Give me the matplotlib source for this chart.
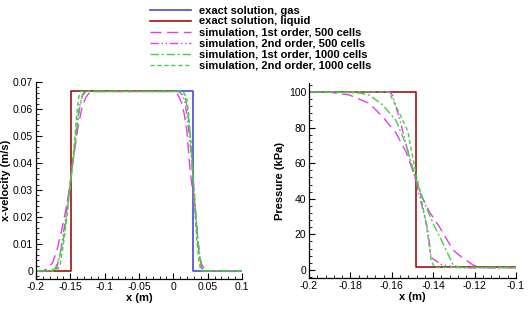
import matplotlib
matplotlib.use("Agg")
import matplotlib.pyplot as plt
from matplotlib.ticker import AutoMinorLocator

# ---------------- data ----------------
labels = ["exact solution, gas", "exact solution, liquid",
          "simulation, 1st order, 500 cells", "simulation, 2nd order, 500 cells",
          "simulation, 1st order, 1000 cells", "simulation, 2nd order, 1000 cells"]

# velocity plot
gas_x = [0.0, 0.0282, 0.0282, 0.1]
gas_u = [0.0665, 0.0665, 0.0, 0.0]
liq_x = [-0.2, -0.149, -0.149, 0.0]
liq_u = [0.0, 0.0, 0.0665, 0.0665]

s1_500_x = [-0.2, -0.19, -0.182, -0.176, -0.170, -0.163, -0.157, -0.152, -0.148, -0.144, -0.139,
            -0.133, -0.128, -0.124, -0.118, 0.0, 0.006, 0.012, 0.016, 0.0194, 0.0243, 0.028,
            0.0316, 0.035, 0.0378, 0.042, 0.046, 0.052, 0.1]
s1_500_u = [0.0, 0.0, 0.001, 0.003, 0.0072, 0.0146, 0.022, 0.0295, 0.037, 0.0444, 0.053,
            0.0605, 0.064, 0.0655, 0.0665, 0.0665, 0.0655, 0.0624, 0.058, 0.0525, 0.0376, 0.030,
            0.0227, 0.013, 0.0053, 0.002, 0.0006, 0.0, 0.0]
s2_500_x = [-0.2, -0.176, -0.170, -0.165, -0.160, -0.155, -0.150, -0.145, -0.140, -0.136, -0.132,
            -0.128, 0.008, 0.014, 0.018, 0.022, 0.026, 0.030, 0.034, 0.038, 0.041, 0.044, 0.1]
s2_500_u = [0.0, 0.0, 0.001, 0.006, 0.014, 0.023, 0.033, 0.043, 0.055, 0.062, 0.0655,
            0.0665, 0.0665, 0.065, 0.061, 0.053, 0.043, 0.030, 0.016, 0.006, 0.001, 0.0, 0.0]
s1_1000_x = [-0.2, -0.178, -0.172, -0.166, -0.160, -0.155, -0.150, -0.145, -0.140, -0.136, -0.132,
             -0.127, 0.010, 0.016, 0.020, 0.024, 0.028, 0.032, 0.036, 0.040, 0.043, 0.1]
s1_1000_u = [0.0, 0.0, 0.001, 0.005, 0.012, 0.021, 0.032, 0.043, 0.054, 0.061, 0.065,
             0.0665, 0.0665, 0.0655, 0.061, 0.052, 0.038, 0.024, 0.011, 0.003, 0.0, 0.0]
s2_1000_x = [-0.2, -0.170, -0.165, -0.160, -0.155, -0.150, -0.145, -0.141, -0.138, -0.135,
             0.014, 0.019, 0.022, 0.025, 0.028, 0.031, 0.034, 0.037, 0.040, 0.1]
s2_1000_u = [0.0, 0.0, 0.002, 0.010, 0.020, 0.032, 0.045, 0.057, 0.064, 0.0665,
             0.0665, 0.0645, 0.059, 0.050, 0.037, 0.024, 0.012, 0.004, 0.0, 0.0]

# pressure plot
liqp_x = [-0.2, -0.1484, -0.1484, -0.1]
liqp_p = [100.0, 100.0, 1.4, 1.4]
p1_500_x = [-0.2, -0.19, -0.1806, -0.1709, -0.1644, -0.158, -0.153, -0.1484, -0.1458, -0.142,
            -0.1369, -0.1304, -0.1256, -0.1207, -0.117, -0.1]
p1_500_p = [100.0, 99.8, 98.3, 93.6, 86.0, 77.0, 66.0, 51.0, 42.0, 33.0,
            24.0, 11.2, 6.6, 2.8, 1.4, 1.4]
p2_500_x = [-0.2, -0.161, -0.1596, -0.156, -0.153, -0.1482, -0.1426, -0.141, -0.136, -0.128, -0.1]
p2_500_p = [100.0, 100.0, 98.0, 84.0, 70.0, 49.0, 22.5, 7.0, 3.0, 1.2, 1.2]
p1_1000_x = [-0.2, -0.18, -0.1757, -0.171, -0.1644, -0.158, -0.153, -0.1484, -0.144, -0.140,
             -0.1353, -0.1304, -0.127, -0.1]
p1_1000_p = [100.0, 99.6, 99.3, 98.3, 92.7, 84.0, 70.0, 51.0, 37.0, 26.0,
             15.0, 2.8, 1.4, 1.4]
p2_1000_x = [-0.2, -0.162, -0.1612, -0.1563, -0.1523, -0.149, -0.1466, -0.1434, -0.141, -0.1395, -0.1]
p2_1000_p = [100.0, 100.0, 99.5, 88.0, 78.0, 58.0, 45.0, 26.0, 6.0, 1.4, 1.4]

# ---------------- style ----------------
BLUE = "#4a4ad8"
RED = "#a01010"
MAG = "#e040e0"
GRN = "#40d040"
styles = [
    dict(color=BLUE, lw=1.2, ls="-"),
    dict(color=RED, lw=1.2, ls="-"),
    dict(color=MAG, lw=1.0, ls=(0, (8, 4))),
    dict(color=MAG, lw=1.0, ls=(0, (6, 2, 1, 2, 1, 2))),
    dict(color=GRN, lw=1.0, ls=(0, (6, 2, 1.5, 2))),
    dict(color=GRN, lw=1.0, ls=(0, (3, 2))),
]

plt.rcParams["font.family"] = ["Liberation Sans", "DejaVu Sans"]

fig = plt.figure(figsize=(5.3, 3.1), dpi=100)
ax1 = fig.add_axes([36/530, 1-279/310, 206/530, 197/310])
ax2 = fig.add_axes([309/530, 1-278/310, 207/530, 195/310])

h = []
h.append(ax1.plot(gas_x, gas_u, **styles[0])[0])
h.append(ax1.plot(liq_x, liq_u, **styles[1])[0])
h.append(ax1.plot(s1_500_x, s1_500_u, **styles[2])[0])
h.append(ax1.plot(s2_500_x, s2_500_u, **styles[3])[0])
h.append(ax1.plot(s1_1000_x, s1_1000_u, **styles[4])[0])
h.append(ax1.plot(s2_1000_x, s2_1000_u, **styles[5])[0])

ax2.plot(liqp_x, liqp_p, **styles[1])
ax2.plot(p1_500_x, p1_500_p, **styles[2])
ax2.plot(p2_500_x, p2_500_p, **styles[3])
ax2.plot(p1_1000_x, p1_1000_p, **styles[4])
ax2.plot(p2_1000_x, p2_1000_p, **styles[5])

ax1.set_xlim(-0.2, 0.1)
ax1.set_ylim(-0.003, 0.07)
ax1.set_xticks([-0.2, -0.15, -0.1, -0.05, 0, 0.05, 0.1])
ax1.set_xticklabels(["-0.2", "-0.15", "-0.1", "-0.05", "0", "0.05", "0.1"])
ax1.set_yticks([0, 0.01, 0.02, 0.03, 0.04, 0.05, 0.06, 0.07])
ax1.set_yticklabels(["0", "0.01", "0.02", "0.03", "0.04", "0.05", "0.06", "0.07"])
ax1.set_xlabel("x (m)", fontweight="bold", fontsize=8, labelpad=1)
ax1.set_ylabel("x-velocity (m/s)", fontweight="bold", fontsize=8, labelpad=1.5)

ax2.set_xlim(-0.2, -0.1)
ax2.set_ylim(-4.5, 105)
ax2.set_xticks([-0.2, -0.18, -0.16, -0.14, -0.12, -0.1])
ax2.set_xticklabels(["-0.2", "-0.18", "-0.16", "-0.14", "-0.12", "-0.1"])
ax2.set_yticks([0, 20, 40, 60, 80, 100])
ax2.set_xlabel("x (m)", fontweight="bold", fontsize=8, labelpad=1)
ax2.set_ylabel("Pressure (kPa)", fontweight="bold", fontsize=8, labelpad=3)

for ax in (ax1, ax2):
    for s in ("top", "right"):
        ax.spines[s].set_visible(False)
    for s in ("left", "bottom"):
        ax.spines[s].set_linewidth(0.9)
    ax.xaxis.set_minor_locator(AutoMinorLocator(5))
    ax.yaxis.set_minor_locator(AutoMinorLocator(5))
    ax.tick_params(which="major", direction="in", length=4, width=0.8, labelsize=7.5, pad=2)
    ax.tick_params(which="minor", direction="in", length=2, width=0.6)

fig.legend(h, labels, loc="upper left", bbox_to_anchor=(150/530, 1-5.5/310),
           frameon=False, prop=dict(weight="bold", size=8),
           handlelength=3.7, handletextpad=0.7, labelspacing=0.09, borderpad=0, borderaxespad=0)

fig.savefig("out.png", dpi=100)
